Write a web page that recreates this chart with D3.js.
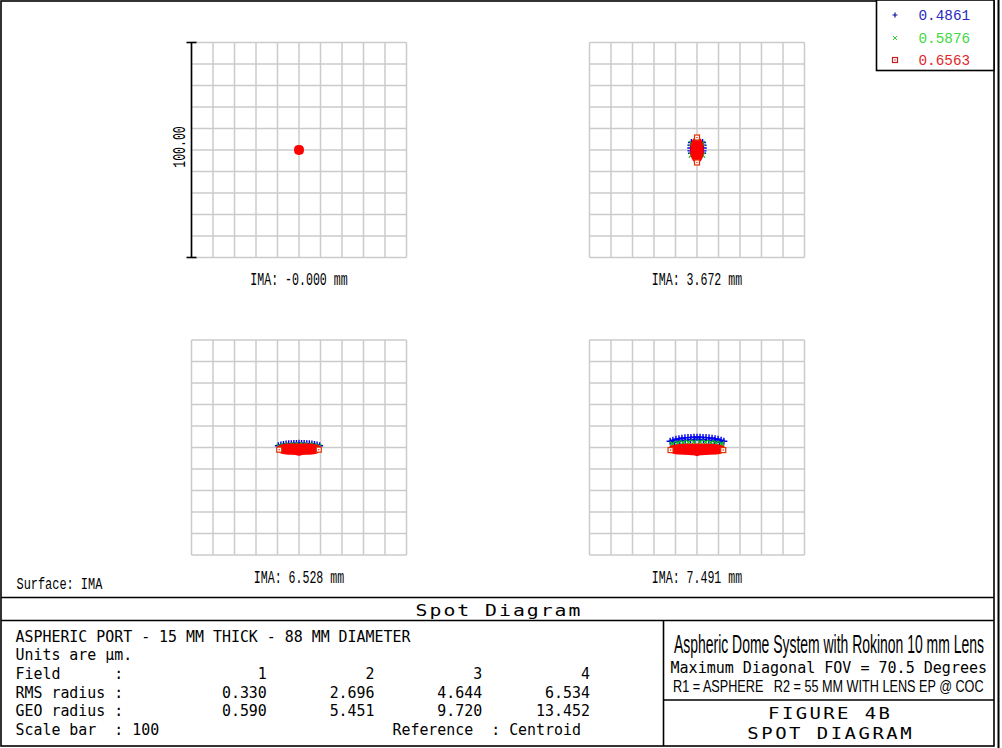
<!DOCTYPE html>
<html><head><meta charset="utf-8">
<script src="https://cdn.jsdelivr.net/npm/d3@7"></script>
<style>body{margin:0;background:#fff}svg{display:block}text{white-space:pre}</style>
</head><body><svg id="c" width="1002" height="748"></svg>
<script>
// ---------------- data ----------------
const wavelengths = ["0.4861", "0.5876", "0.6563"];
const fieldLabels = ["IMA: -0.000 mm", "IMA: 3.672 mm", "IMA: 6.528 mm", "IMA: 7.491 mm"];
const fieldNumbers = ["1", "2", "3", "4"];
const rmsRadius = ["0.330", "2.696", "4.644", "6.534"];
const geoRadius = ["0.590", "5.451", "9.720", "13.452"];
const scaleBarValue = 100;
const scaleBarLabel = "100.00";
const plotDomain = [-50, 50];   // micrometres across each box (scale bar 100)

// spot rays, micrometres relative to centroid (x right, y up)
const field1Blue = [[0, 0.4], [0, -0.4]];
const field1Green = [[0.3, 0], [-0.3, 0]];
const field1RedArea = [[0, 1.9], [1.5, 1.5], [1.9, 0], [1.5, -1.5], [0, -1.9], [-1.5, -1.5], [-1.9, 0], [-1.5, 1.5]];
const field1RedEdge = [];

const field2Blue = [[-2.6, 3.5], [-2.8, 2.2], [-2.9, 0.9], [-2.8, -0.4], [-2.6, -1.5], [2.6, 3.5], [2.8, 2.2], [2.9, 0.9], [2.8, -0.4], [2.6, -1.5]];
const field2Green = [[-2.5, 3.0], [-2.6, -2.4], [2.5, 3.0], [2.6, -2.4]];
const field2RedArea = [[0, 5.6], [1.2, 5.1], [2.1, 3.8], [2.6, 2.0], [2.7, 0], [2.6, -2.0], [2.1, -3.8], [1.2, -5.1], [0, -5.6], [-1.2, -5.1], [-2.1, -3.8], [-2.6, -2.0], [-2.7, 0], [-2.6, 2.0], [-2.1, 3.8], [-1.2, 5.1]];
const field2RedEdge = [[0, 5.8], [0, -5.8]];

const field3Blue = [[-9.6, 0.8], [-8.4, 1.2], [-7.2, 1.4], [-6.0, 1.6], [-4.8, 1.7], [-3.6, 1.8], [-2.4, 1.9], [-1.2, 1.9], [0, 2.0], [1.2, 1.9], [2.4, 1.9], [3.6, 1.8], [4.8, 1.7], [6.0, 1.6], [7.2, 1.4], [8.4, 1.2], [9.6, 0.8]];
const field3Green = [[-9.2, 0.5], [-7.0, 0.9], [-4.5, 1.1], [-2.0, 1.2], [0, 1.2], [2.0, 1.2], [4.5, 1.1], [7.0, 0.9], [9.2, 0.5]];
const field3RedArea = [[-9.6, -0.6], [-9.2, 0.5], [-8, 1.0], [-5, 1.4], [0, 1.5], [5, 1.4], [8, 1.0], [9.2, 0.5], [9.6, -0.6], [9.2, -1.8], [8, -2.5], [5, -2.9], [1.5, -3.1], [0, -3.4], [-1.5, -3.1], [-5, -2.9], [-8, -2.5], [-9.2, -1.8]];
const field3RedEdge = [[-9.2, -1.0], [9.2, -1.0]];

const field4Blue = [[-12.5, 2.9], [-11.2, 3.4], [-9.8, 3.8], [-8.4, 4.1], [-7, 4.3], [-5.6, 4.5], [-4.2, 4.6], [-2.8, 4.7], [-1.4, 4.8], [0, 4.8], [1.4, 4.8], [2.8, 4.7], [4.2, 4.6], [5.6, 4.5], [7, 4.3], [8.4, 4.1], [9.8, 3.8], [11.2, 3.4], [12.5, 2.9],
  [-10.5, 2.6], [-8, 3.1], [-5.5, 3.4], [-3, 3.6], [-1, 3.7], [1, 3.7], [3, 3.6], [5.5, 3.4], [8, 3.1], [10.5, 2.6]];
const field4Green = [[-11.5, 1.6], [-9, 2.0], [-6.5, 2.2], [-4, 2.4], [-1.5, 2.5], [1.5, 2.5], [4, 2.4], [6.5, 2.2], [9, 2.0], [11.5, 1.6]];
const field4RedArea = [[-12.8, -0.6], [-12.3, 0.4], [-10.5, 0.9], [-6, 1.3], [0, 1.4], [6, 1.3], [10.5, 0.9], [12.3, 0.4], [12.8, -0.6], [12.3, -1.8], [10.5, -2.6], [6, -3.0], [1.5, -3.2], [0, -3.6], [-1.5, -3.2], [-6, -3.0], [-10.5, -2.6], [-12.3, -1.8]];
const field4RedEdge = [[-12.3, -1.2], [12.2, -1.2]];

const blueRays = [field1Blue, field2Blue, field3Blue, field4Blue];
const greenRays = [field1Green, field2Green, field3Green, field4Green];
const redAreas = [field1RedArea, field2RedArea, field3RedArea, field4RedArea];
const redEdges = [field1RedEdge, field2RedEdge, field3RedEdge, field4RedEdge];

// ---------------- drawing ----------------
const svg = d3.select("#c");
const MONO = "'Liberation Mono','DejaVu Sans Mono',monospace";
const MONO2 = "'DejaVu Sans Mono','Liberation Mono',monospace";
const NARROW = "'Liberation Sans Narrow','Liberation Sans','Arimo',sans-serif";
const BLUE = "#0000ee", GREEN = "#00c800", RED = "#ff0000";

// text fitted to a measured width: glyphs scaled horizontally (and optionally letter-spaced)
function txt(g, str, x, y, capH, adv, anchor, opts = {}) {
  const w = opts.width || str.length * adv;
  const x0 = anchor === "middle" ? x - w / 2 : anchor === "end" ? x - w : x;
  const t = g.append("text")
    .attr("x", 0).attr("y", 0)
    .attr("font-family", opts.family || MONO)
    .attr("font-size", capH / (opts.capRatio || 0.58))
    .attr("fill", opts.color || "#000")
    .text(str);
  if (opts.weight) t.attr("font-weight", opts.weight);
  const natural = t.node().getComputedTextLength();
  if (opts.adjust === "spacing") {
    const hs = opts.hscale || 1;
    const ls = (w / hs - natural) / str.length;
    t.attr("letter-spacing", ls).attr("transform", `translate(${x0 + hs * ls / 2},${y}) scale(${hs},1)`);
  } else {
    t.attr("transform", `translate(${x0},${y}) scale(${w / natural},1)`);
  }
  return t;
}

const plotSize = 215;
const plotOrigins = [[191.5, 42.5], [589.5, 42.5], [191.5, 340], [589.5, 340]];

plotOrigins.forEach(([x0, y0], i) => {
  const sx = d3.scaleLinear().domain(plotDomain).range([x0, x0 + plotSize]);
  const sy = d3.scaleLinear().domain(plotDomain).range([y0 + plotSize, y0]);
  const g = svg.append("g");
  // grid
  g.selectAll("line.v").data(sx.ticks(10)).join("line")
    .attr("x1", d => sx(d)).attr("x2", d => sx(d)).attr("y1", y0).attr("y2", y0 + plotSize)
    .attr("stroke", "#cbcbcb").attr("stroke-width", 1.5);
  g.selectAll("line.h").data(sy.ticks(10)).join("line")
    .attr("y1", d => sy(d)).attr("y2", d => sy(d)).attr("x1", x0).attr("x2", x0 + plotSize)
    .attr("stroke", "#cbcbcb").attr("stroke-width", 1.5);

  // blue +
  g.selectAll("path.b").data(blueRays[i]).join("path")
    .attr("d", d => `M${sx(d[0]) - 3.5},${sy(d[1])}H${sx(d[0]) + 3.5}M${sx(d[0])},${sy(d[1]) - 3.5}V${sy(d[1]) + 3.5}`)
    .attr("stroke", BLUE).attr("stroke-width", 1.4).attr("fill", "none");
  // green x
  g.selectAll("path.g").data(greenRays[i]).join("path")
    .attr("d", d => `M${sx(d[0]) - 2.5},${sy(d[1]) - 2.5}L${sx(d[0]) + 2.5},${sy(d[1]) + 2.5}M${sx(d[0]) - 2.5},${sy(d[1]) + 2.5}L${sx(d[0]) + 2.5},${sy(d[1]) - 2.5}`)
    .attr("stroke", GREEN).attr("stroke-width", 1.3).attr("fill", "none");
  // red area
  g.append("path")
    .attr("d", d3.line().x(d => sx(d[0])).y(d => sy(d[1])).curve(d3.curveCardinalClosed.tension(0.3))(redAreas[i]))
    .attr("fill", RED).attr("stroke", RED).attr("stroke-width", 1.8).attr("stroke-linejoin", "round");
  // red edge squares
  g.selectAll("rect.r").data(redEdges[i]).join("rect")
    .attr("x", d => sx(d[0]) - 2.5).attr("y", d => sy(d[1]) - 2.5).attr("width", 5).attr("height", 5)
    .attr("fill", "#fff").attr("stroke", "#e03000").attr("stroke-width", 1.2);
  g.selectAll("rect.rd").data(redEdges[i]).join("rect")
    .attr("x", d => sx(d[0]) - 0.6).attr("y", d => sy(d[1]) - 0.6).attr("width", 1.2).attr("height", 1.2)
    .attr("fill", RED);

  // field label
  txt(svg, fieldLabels[i], x0 + plotSize / 2, y0 + plotSize + 27.5, 10.5, 6.95, "middle");

  // scale bar on the first plot
  if (i === 0) {
    const sb = d3.scaleLinear().domain([0, scaleBarValue]).range([y0 + plotSize, y0]);
    g.append("line").attr("x1", x0).attr("x2", x0).attr("y1", sb(0)).attr("y2", sb(scaleBarValue))
      .attr("stroke", "#000").attr("stroke-width", 1.6);
    [0, scaleBarValue].forEach(v => g.append("line").attr("x1", x0 - 5).attr("x2", x0 + 5)
      .attr("y1", sb(v)).attr("y2", sb(v)).attr("stroke", "#000").attr("stroke-width", 1.6));
    const lg = svg.append("g").attr("transform", `translate(185,${sb(scaleBarValue / 2) - 3}) rotate(-90)`);
    txt(lg, scaleBarLabel, 0, 0, 10.5, 6.9, "middle");
  }
});

// frame
const frame = svg.append("g").attr("stroke", "#000").attr("stroke-width", 1.6).attr("fill", "none");
frame.append("rect").attr("x", 1).attr("y", 1).attr("width", 993).attr("height", 745);
frame.append("line").attr("x1", 998.5).attr("x2", 998.5).attr("y1", 0).attr("y2", 748).attr("stroke-width", 2);
frame.append("line").attr("x1", 1).attr("x2", 994).attr("y1", 597.5).attr("y2", 597.5);
frame.append("line").attr("x1", 1).attr("x2", 994).attr("y1", 620.5).attr("y2", 620.5);
frame.append("line").attr("x1", 663.5).attr("x2", 663.5).attr("y1", 620.5).attr("y2", 746);
frame.append("line").attr("x1", 663.5).attr("x2", 994).attr("y1", 700).attr("y2", 700);

// legend
frame.append("rect").attr("x", 876.5).attr("y", 0).attr("width", 117.5).attr("height", 70.5).attr("fill", "#fff");
const legColors = [BLUE, "#30d030", "#e02020"];
const legText = ["#2a2ac0", "#40d840", "#e02828"];
const legY = [15, 38, 60];
const lgG = svg.append("g");
wavelengths.forEach((w, k) => {
  const y = legY[k], x = 895;
  if (k === 0) lgG.append("path").attr("d", `M${x - 2.5},${y}H${x + 2.5}M${x},${y - 2.5}V${y + 2.5}`).attr("stroke", "#1010a0").attr("stroke-width", 1.2);
  if (k === 1) lgG.append("path").attr("d", `M${x - 2},${y - 2}L${x + 2},${y + 2}M${x - 2},${y + 2}L${x + 2},${y - 2}`).attr("stroke", legColors[1]).attr("stroke-width", 1);
  if (k === 2) {
    lgG.append("rect").attr("x", x - 2.5).attr("y", y - 2.5).attr("width", 5).attr("height", 5).attr("fill", "none").attr("stroke", "#c02020").attr("stroke-width", 1.2);
    lgG.append("rect").attr("x", x - 0.6).attr("y", y - 0.6).attr("width", 1.2).attr("height", 1.2).attr("fill", "#c02020");
  }
  txt(lgG, w, 918.5, y + 4.5, 9, 8.6, "start", { color: legText[k] });
});

// surface label
txt(svg, "Surface: IMA", 16.5, 589.3, 9.5, 7.15, "start");

// compact-line-box monospace used in the bottom panel
const info = { family: MONO2, capRatio: 0.729, weight: 300 };

// title band
txt(svg, "Spot Diagram", 498, 615.5, 12, 13.9, "middle", { ...info, adjust: "spacing", hscale: 1.2 });

// left info block
const ADV = 8.97, LX = 15.5;
txt(svg, "ASPHERIC PORT - 15 MM THICK - 88 MM DIAMETER", LX, 641.5, 11.7, ADV, "start", info);
txt(svg, "Units are \u00b5m.", LX, 660, 11.7, ADV, "start", info);
const row = (head, vals) => head + vals.map((v, j) => v.padStart(j === 0 ? 16 : 12)).join("");
txt(svg, row("Field      :", fieldNumbers), LX, 679, 11.7, ADV, "start", info);
txt(svg, row("RMS radius :", rmsRadius), LX, 697.5, 11.7, ADV, "start", info);
txt(svg, row("GEO radius :", geoRadius), LX, 716.3, 11.7, ADV, "start", info);
txt(svg, ("Scale bar  : " + scaleBarValue).padEnd(42) + "Reference  : Centroid", LX, 735.3, 11.7, ADV, "start", info);

// right title block
txt(svg, "Aspheric Dome System with Rokinon 10 mm Lens", 674, 652.5, 18, 0, "start", { family: NARROW, capRatio: 0.69, width: 310 });
txt(svg, "Maximum Diagonal FOV = 70.5 Degrees", 670.5, 673, 11, 9.05, "start", info);
txt(svg, "R1 = ASPHERE   R2 = 55 MM WITH LENS EP @ COC", 673, 692, 11, 0, "start", { family: NARROW, capRatio: 0.69, width: 311 });
txt(svg, "FIGURE 4B", 829, 719, 11.5, 13.8, "middle", { ...info, adjust: "spacing", hscale: 1.2 });
txt(svg, "SPOT DIAGRAM", 829.5, 739, 11.5, 13.9, "middle", { ...info, adjust: "spacing", hscale: 1.2 });
</script>
</body></html>
